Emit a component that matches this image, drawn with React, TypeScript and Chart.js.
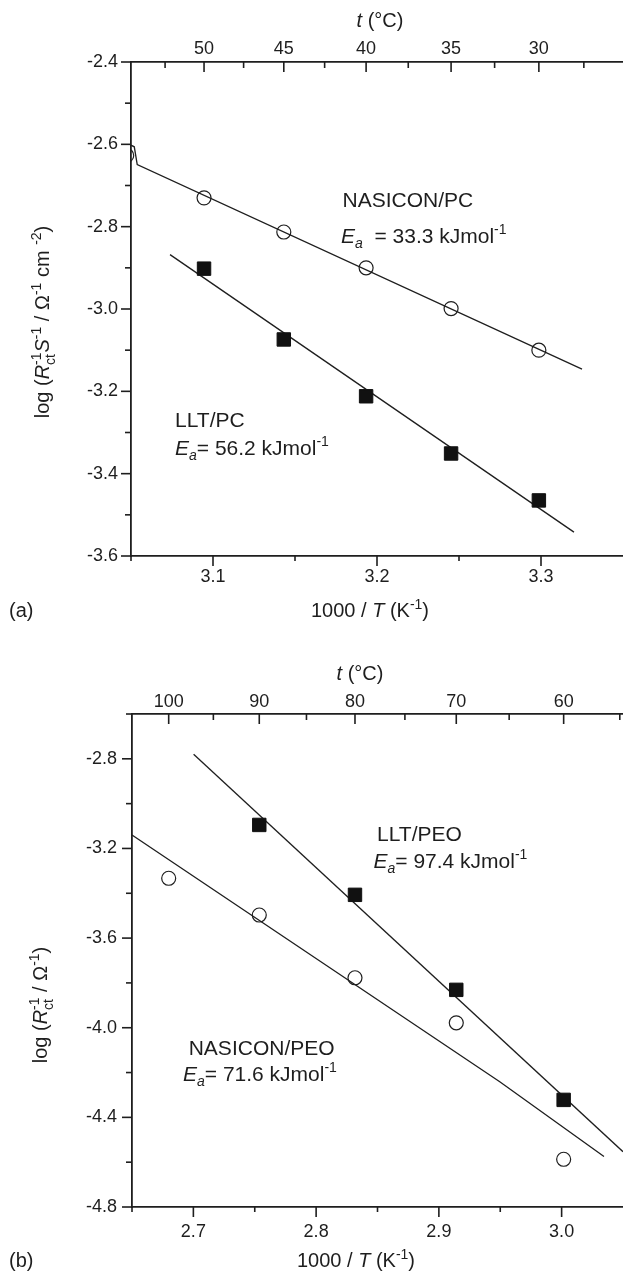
import React, { useEffect, useRef } from 'react';
import { Chart, registerables } from 'chart.js';

Chart.register(...registerables);

const FONT = '"Liberation Sans", Arial, Helvetica, sans-serif';
const INK = '#1e1e1e';

// 1000/T (K^-1) for a temperature in °C
const invT = (c: number) => 1000 / (c + 273.15);

// ---------- Panel (a) data ----------
const aNasiconTempsC = [55, 50, 45, 40, 35, 30];
const aNasiconLogY = [-2.627, -2.73, -2.813, -2.9, -2.999, -3.1];
const aLltTempsC = [50, 45, 40, 35, 30];
const aLltLogY = [-2.902, -3.074, -3.212, -3.351, -3.465];
const aNasiconFitX = [3.05, 3.052, 3.0538, 3.325];
const aNasiconFitY = [-2.602, -2.606, -2.649, -3.146];
const aLltFitX = [3.0738, 3.3201];
const aLltFitY = [-2.868, -3.542];
const aXTicks = [3.1, 3.2, 3.3];
const aXMinor = [3.05, 3.15, 3.25];
const aYTicks = [-3.6, -3.4, -3.2, -3.0, -2.8, -2.6, -2.4];
const aYMinor = [-3.5, -3.3, -3.1, -2.9, -2.7, -2.5];
const aTopTicksC = [50, 45, 40, 35, 30];
const aTopMinorC = [52.5, 47.5, 42.5, 37.5, 32.5, 27.5];

// ---------- Panel (b) data ----------
const bNasiconTempsC = [100, 90, 80, 70, 60];
const bNasiconLogY = [-3.333, -3.497, -3.777, -3.978, -4.587];
const bLltTempsC = [90, 80, 70, 60];
const bLltLogY = [-3.095, -3.407, -3.831, -4.322];
const bNasiconFitX = [2.65, 2.9496, 3.0345];
const bNasiconFitY = [-3.14, -4.241, -4.575];
const bLltFitX = [2.7002, 3.05];
const bLltFitY = [-2.78, -4.553];
const bXTicks = [2.7, 2.8, 2.9, 3.0];
const bXMinor = [2.65, 2.75, 2.85, 2.95];
const bYTicks = [-4.8, -4.4, -4.0, -3.6, -3.2, -2.8];
const bYMinor = [-4.6, -4.2, -3.8, -3.4, -3.0, -2.6];
const bTopTicksC = [100, 90, 80, 70, 60];
const bTopMinorC = [95, 85, 75, 65, 55];

type Seg = { t: string; i?: boolean; sub?: boolean; sup?: boolean; stack?: boolean };
type RichText = { segs: Seg[]; x: number; y: number; size: number; align?: 'left' | 'center'; rot?: boolean };

function segFont(s: Seg, size: number) {
  const fs = s.sub || s.sup ? Math.round(size * 0.68) : size;
  return `${s.i ? 'italic ' : ''}${fs}px ${FONT}`;
}

function drawRich(ctx: CanvasRenderingContext2D, rt: RichText) {
  const { segs, size } = rt;
  ctx.save();
  let pen = 0;
  let prevStart = 0;
  let prevEnd = 0;
  const placed: { s: Seg; start: number }[] = [];
  for (const s of segs) {
    ctx.font = segFont(s, size);
    const w = ctx.measureText(s.t).width;
    const start = s.stack ? prevStart : pen;
    placed.push({ s, start });
    const end = start + w;
    pen = s.stack ? Math.max(prevEnd, end) : end;
    if (!s.stack) {
      prevStart = start;
      prevEnd = end;
    }
  }
  const total = pen;
  ctx.translate(rt.x, rt.y);
  if (rt.rot) ctx.rotate(-Math.PI / 2);
  const x0 = rt.align === 'center' ? -total / 2 : 0;
  const base = size * 0.36;
  ctx.fillStyle = INK;
  ctx.textBaseline = 'alphabetic';
  ctx.textAlign = 'left';
  for (const p of placed) {
    ctx.font = segFont(p.s, size);
    const dy = p.s.sub ? size * 0.28 : p.s.sup ? -size * 0.42 : 0;
    ctx.fillText(p.s.t, x0 + p.start, base + dy);
  }
  ctx.restore();
}

type TickSpec = { scale: 'x' | 'y' | 'x2'; values: number[]; len: number };

type PanelCfg = {
  height: number;
  xMin: number;
  xMax: number;
  yMin: number;
  yMax: number;
  xTicks: number[];
  yTicks: number[];
  topTicksC: number[];
  yWidth: number;
  xHeight: number;
  topHeight: number;
  xPad: number;
  topPad: number;
  yPad: number;
  circles: { x: number[]; y: number[] };
  squares: { x: number[]; y: number[] };
  fits: { x: number[]; y: number[] }[];
  ticks: TickSpec[];
  texts: RichText[];
};

const EA = (val: string, spaced: boolean): Seg[] => [
  { t: 'E', i: true },
  { t: 'a', i: true, sub: true },
  { t: (spaced ? '  = ' : '= ') + val + ' kJmol' },
  { t: '-1', sup: true },
];

const panelA: PanelCfg = {
  height: 640,
  xMin: 3.05,
  xMax: 3.35,
  yMin: -3.6,
  yMax: -2.4,
  xTicks: aXTicks,
  yTicks: aYTicks,
  topTicksC: aTopTicksC,
  yWidth: 131,
  xHeight: 84,
  topHeight: 62,
  xPad: 10,
  topPad: 2,
  yPad: 13,
  circles: { x: aNasiconTempsC.map(invT), y: aNasiconLogY },
  squares: { x: aLltTempsC.map(invT), y: aLltLogY },
  fits: [
    { x: aNasiconFitX, y: aNasiconFitY },
    { x: aLltFitX, y: aLltFitY },
  ],
  ticks: [
    { scale: 'y', values: aYTicks, len: 10 },
    { scale: 'y', values: aYMinor, len: 6 },
    { scale: 'x', values: aXTicks, len: 10 },
    { scale: 'x', values: aXMinor, len: 5 },
    { scale: 'x2', values: aTopTicksC.map(invT), len: 10 },
    { scale: 'x2', values: aTopMinorC.map(invT), len: 6 },
  ],
  texts: [
    { segs: [{ t: 't', i: true }, { t: ' (°C)' }], x: 380, y: 20, size: 20, align: 'center' },
    {
      segs: [{ t: '1000 / ' }, { t: 'T', i: true }, { t: ' (K' }, { t: '-1', sup: true }, { t: ')' }],
      x: 370, y: 610, size: 20, align: 'center',
    },
    { segs: [{ t: '(a)' }], x: 9, y: 610, size: 20 },
    {
      segs: [
        { t: 'log (' }, { t: 'R', i: true }, { t: 'ct', sub: true }, { t: '-1', sup: true, stack: true },
        { t: 'S', i: true }, { t: '-1', sup: true }, { t: ' / Ω' }, { t: '-1', sup: true },
        { t: ' cm ' }, { t: '-2', sup: true }, { t: ')' },
      ],
      x: 42, y: 322, size: 20, align: 'center', rot: true,
    },
    { segs: [{ t: 'NASICON/PC' }], x: 342.5, y: 199, size: 21 },
    { segs: EA('33.3', true), x: 341, y: 235, size: 21 },
    { segs: [{ t: 'LLT/PC' }], x: 175, y: 419, size: 21 },
    { segs: EA('56.2', false), x: 175, y: 447, size: 21 },
  ],
};

const panelB: PanelCfg = {
  height: 632,
  xMin: 2.65,
  xMax: 3.05,
  yMin: -4.8,
  yMax: -2.6,
  xTicks: bXTicks,
  yTicks: bYTicks,
  topTicksC: bTopTicksC,
  yWidth: 132,
  xHeight: 65,
  topHeight: 74,
  xPad: 14,
  topPad: 1.5,
  yPad: 15,
  circles: { x: bNasiconTempsC.map(invT), y: bNasiconLogY },
  squares: { x: bLltTempsC.map(invT), y: bLltLogY },
  fits: [
    { x: bNasiconFitX, y: bNasiconFitY },
    { x: bLltFitX, y: bLltFitY },
  ],
  ticks: [
    { scale: 'y', values: bYTicks, len: 10 },
    { scale: 'y', values: bYMinor, len: 6 },
    { scale: 'x', values: bXTicks, len: 10 },
    { scale: 'x', values: bXMinor, len: 5 },
    { scale: 'x2', values: bTopTicksC.map(invT), len: 10 },
    { scale: 'x2', values: bTopMinorC.map(invT), len: 6 },
  ],
  texts: [
    { segs: [{ t: 't', i: true }, { t: ' (°C)' }], x: 360, y: 33, size: 20, align: 'center' },
    {
      segs: [{ t: '1000 / ' }, { t: 'T', i: true }, { t: ' (K' }, { t: '-1', sup: true }, { t: ')' }],
      x: 356, y: 620, size: 20, align: 'center',
    },
    { segs: [{ t: '(b)' }], x: 9, y: 620, size: 20 },
    {
      segs: [
        { t: 'log (' }, { t: 'R', i: true }, { t: 'ct', sub: true }, { t: '-1', sup: true, stack: true },
        { t: ' / Ω' }, { t: '-1', sup: true }, { t: ')' },
      ],
      x: 40, y: 365, size: 20, align: 'center', rot: true,
    },
    { segs: [{ t: 'LLT/PEO' }], x: 377, y: 193, size: 21 },
    { segs: EA('97.4', false), x: 373.5, y: 220, size: 21 },
    { segs: [{ t: 'NASICON/PEO' }], x: 188.7, y: 407, size: 21 },
    { segs: EA('71.6', false), x: 183, y: 433, size: 21 },
  ],
};

function makeDecor(p: PanelCfg) {
  return {
    id: 'decor',
    afterDraw(chart: any) {
      const ctx: CanvasRenderingContext2D = chart.ctx;
      const area = chart.chartArea;
      ctx.save();
      ctx.strokeStyle = INK;
      ctx.lineWidth = 1.6;
      ctx.lineCap = 'butt';
      for (const spec of p.ticks) {
        const sc = chart.scales[spec.scale];
        for (const v of spec.values) {
          const px = sc.getPixelForValue(v);
          ctx.beginPath();
          if (spec.scale === 'y') {
            ctx.moveTo(area.left, px);
            ctx.lineTo(area.left - spec.len, px);
          } else if (spec.scale === 'x') {
            ctx.moveTo(px, area.bottom);
            ctx.lineTo(px, area.bottom + spec.len);
          } else {
            ctx.moveTo(px, area.top);
            ctx.lineTo(px, area.top + spec.len);
          }
          ctx.stroke();
        }
      }
      ctx.restore();
      for (const t of p.texts) drawRich(ctx, t);
    },
  };
}

function makeConfig(p: PanelCfg): any {
  const tickFont = { family: FONT, size: 18 };
  const border = { display: true, color: INK, width: 1.8 };
  const grid = { display: false, drawTicks: false, drawOnChartArea: false };
  const pts = (s: { x: number[]; y: number[] }) => s.x.map((x, i) => ({ x, y: s.y[i] }));
  return {
    type: 'scatter',
    data: {
      datasets: [
        {
          data: pts(p.squares),
          pointStyle: 'rect',
          pointRadius: 9.5,
          pointBackgroundColor: '#111',
          pointBorderColor: '#111',
          pointBorderWidth: 1,
          showLine: false,
        },
        {
          data: pts(p.circles),
          pointStyle: 'circle',
          pointRadius: 7,
          pointBackgroundColor: 'rgba(0,0,0,0)',
          pointBorderColor: INK,
          pointBorderWidth: 1.2,
          showLine: false,
        },
        ...p.fits.map((f) => ({
          data: pts(f),
          showLine: true,
          pointRadius: 0,
          borderColor: INK,
          borderWidth: 1.3,
          tension: 0,
          fill: false,
        })),
      ],
    },
    options: {
      responsive: false,
      animation: false,
      events: [],
      layout: { padding: 0, autoPadding: false },
      plugins: { legend: { display: false }, tooltip: { enabled: false } },
      scales: {
        x: {
          type: 'linear',
          position: 'bottom',
          min: p.xMin,
          max: p.xMax,
          grid,
          border,
          ticks: {
            font: tickFont,
            color: INK,
            padding: p.xPad,
            autoSkip: false,
            maxRotation: 0,
            callback: (v: any) => Number(v).toFixed(1),
          },
          afterBuildTicks: (s: any) => {
            s.ticks = p.xTicks.map((v) => ({ value: v }));
          },
          afterFit: (s: any) => {
            s.height = p.xHeight;
            s.paddingLeft = 0;
            s.paddingRight = 0;
          },
        },
        x2: {
          type: 'linear',
          position: 'top',
          min: p.xMin,
          max: p.xMax,
          grid,
          border,
          ticks: {
            font: tickFont,
            color: INK,
            padding: p.topPad,
            autoSkip: false,
            maxRotation: 0,
            callback: (v: any) => String(Math.round(1000 / Number(v) - 273.15)),
          },
          afterBuildTicks: (s: any) => {
            s.ticks = p.topTicksC.map((c) => ({ value: invT(c) }));
          },
          afterFit: (s: any) => {
            s.height = p.topHeight;
            s.paddingLeft = 0;
            s.paddingRight = 0;
          },
        },
        y: {
          type: 'linear',
          position: 'left',
          min: p.yMin,
          max: p.yMax,
          grid,
          border,
          ticks: {
            font: tickFont,
            color: INK,
            padding: p.yPad,
            autoSkip: false,
            callback: (v: any) => Number(v).toFixed(1),
          },
          afterBuildTicks: (s: any) => {
            s.ticks = p.yTicks.map((v) => ({ value: v }));
          },
          afterFit: (s: any) => {
            s.width = p.yWidth;
            s.paddingTop = 0;
            s.paddingBottom = 0;
          },
        },
      },
    },
    plugins: [makeDecor(p)],
  };
}

function Panel({ cfg }: { cfg: PanelCfg }) {
  const ref = useRef<HTMLCanvasElement>(null);
  useEffect(() => {
    const chart = new Chart(ref.current as HTMLCanvasElement, makeConfig(cfg));
    return () => chart.destroy();
  }, [cfg]);
  return (
    <canvas
      ref={ref}
      width={623}
      height={cfg.height}
      style={{ display: 'block', width: 623, height: cfg.height }}
    />
  );
}

export default function App() {
  return (
    <div style={{ position: 'absolute', left: 0, top: 0, width: 623, height: 1272, background: '#fff' }}>
      <Panel cfg={panelA} />
      <Panel cfg={panelB} />
    </div>
  );
}
